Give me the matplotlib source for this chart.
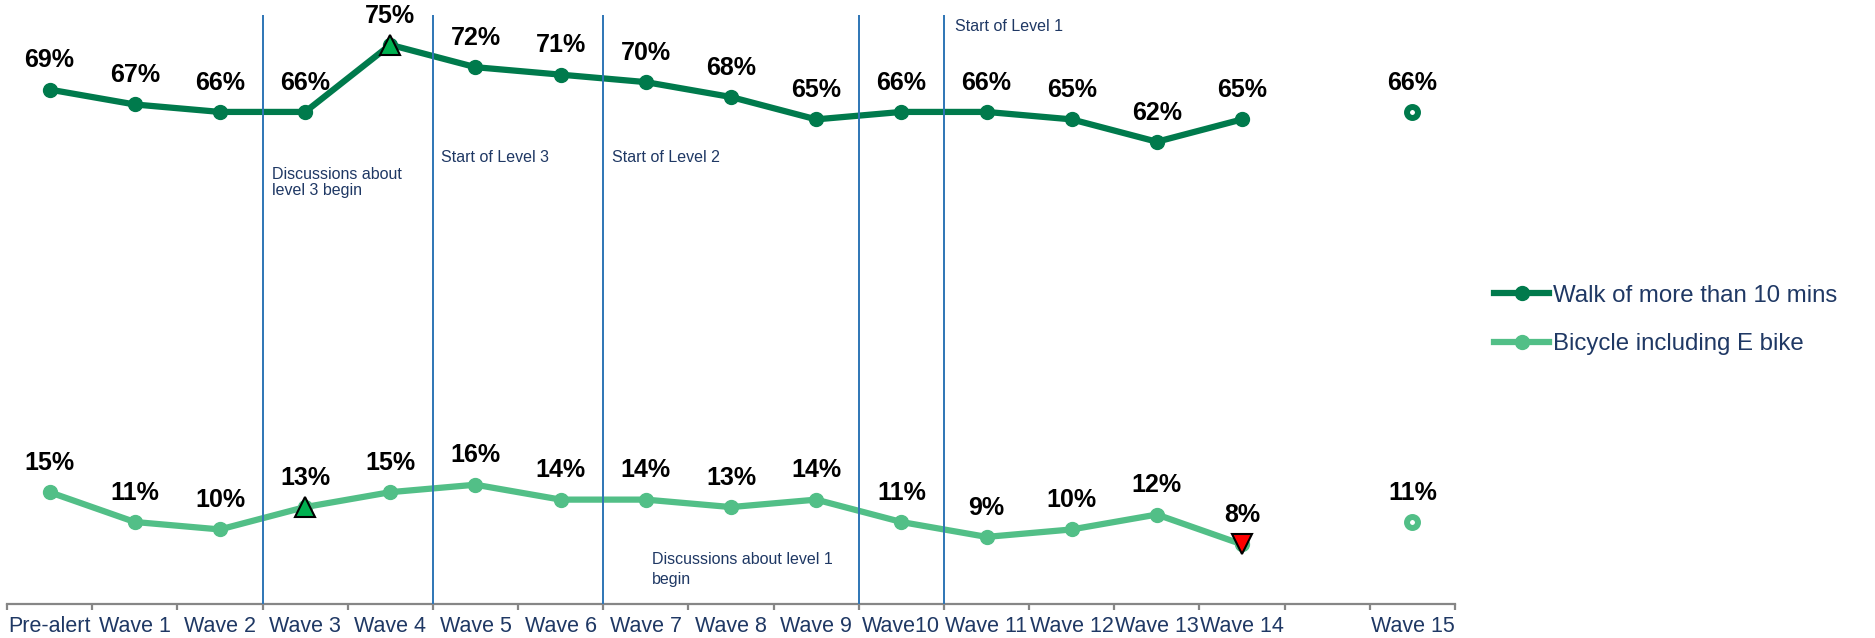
import matplotlib
matplotlib.use("Agg")
import matplotlib.pyplot as plt
from matplotlib.lines import Line2D

# Survey waves (the empty slot keeps a gap before the latest wave)
categories = ["Pre-alert", "Wave 1", "Wave 2", "Wave 3", "Wave 4", "Wave 5",
              "Wave 6", "Wave 7", "Wave 8", "Wave 9", "Wave10", "Wave 11",
              "Wave 12", "Wave 13", "Wave 14", "", "Wave 15"]

# Share of respondents (%) for Pre-alert .. Wave 14
walk = [69, 67, 66, 66, 75, 72, 71, 70, 68, 65, 66, 66, 65, 62, 65]
bike = [15, 11, 10, 13, 15, 16, 14, 14, 13, 14, 11, 9, 10, 12, 8]
# Latest wave, shown on its own
walk_latest = 66
bike_latest = 11

# Significant changes by wave index
sig_up_walk = [4]
sig_up_bike = [3]
sig_down_bike = [14]

# Policy milestones: boundary positions between waves
event_lines = [3, 5, 7, 10, 11]

WALK_C = "#007A4C"
BIKE_C = "#52BF87"
NAVY = "#1F3864"
VLINE_C = "#2E75B6"
FONT = ["Liberation Sans", "DejaVu Sans"]

plt.rcParams["font.family"] = FONT

fig = plt.figure(figsize=(18.75, 6.38), dpi=100)
ax = fig.add_axes([7 / 1875, 34 / 638, 1448 / 1875, 589 / 638])

n = len(walk)
xs = [i + 0.5 for i in range(n)]
x_latest = len(categories) - 0.5

lw = 4.5
ms = 10
ax.plot(xs, walk, color=WALK_C, lw=lw, marker="o", ms=ms, zorder=2,
        solid_capstyle="round", label="Walk of more than 10 mins")
ax.plot(xs, bike, color=BIKE_C, lw=lw, marker="o", ms=ms, zorder=2,
        solid_capstyle="round", label="Bicycle including E bike")

# Latest wave as hollow points
ax.plot([x_latest], [walk_latest], linestyle="none", marker="o", ms=7.9,
        mfc="white", mec=WALK_C, mew=4.3, zorder=2)
ax.plot([x_latest], [bike_latest], linestyle="none", marker="o", ms=7.9,
        mfc="white", mec=BIKE_C, mew=4.3, zorder=2)

# Significance markers
for i in sig_up_walk:
    ax.plot(xs[i], walk[i], marker="^", ms=15, mfc="#00B050", mec="black",
            mew=1.5, linestyle="none", zorder=4)
for i in sig_up_bike:
    ax.plot(xs[i], bike[i], marker="^", ms=15, mfc="#00B050", mec="black",
            mew=1.5, linestyle="none", zorder=4)
for i in sig_down_bike:
    ax.plot(xs[i], bike[i], marker="v", ms=15, mfc="#FF0000", mec="black",
            mew=1.5, linestyle="none", zorder=4)

# Value labels
def label(x, y):
    ax.annotate(f"{y}%", (x, y), xytext=(0, 16), textcoords="offset points",
                ha="center", va="baseline", fontsize=18, fontweight="bold",
                color="black", zorder=5)

for x, y in zip(xs, walk):
    label(x, y)
for x, y in zip(xs, bike):
    label(x, y)
label(x_latest, walk_latest)
label(x_latest, bike_latest)

# Milestone lines and notes
for xv in event_lines:
    ax.axvline(xv, color=VLINE_C, lw=1.4, zorder=3)

note_kw = dict(fontsize=11.5, color=NAVY, ha="left", va="center", zorder=5)
ax.text(3.11, 56.5, "Discussions about\nlevel 3 begin", linespacing=1.1, **note_kw)
ax.text(5.10, 59.95, "Start of Level 3", **note_kw)
ax.text(7.10, 59.95, "Start of Level 2", **note_kw)
ax.text(11.13, 77.4, "Start of Level 1", **note_kw)
ax.text(7.57, 4.6, "Discussions about level 1\nbegin", linespacing=1.45, **note_kw)

# Axes styling
ax.set_xlim(0, len(categories))
ax.set_ylim(0, 79)
for s in ["top", "right", "left"]:
    ax.spines[s].set_visible(False)
ax.spines["bottom"].set_color("#868686")
ax.spines["bottom"].set_linewidth(1.6)
ax.set_yticks([])
ax.set_xticks(range(len(categories) + 1))
ax.set_xticklabels([])
ax.tick_params(axis="x", which="major", length=4.5, width=1.6,
               color="#868686", direction="out")
ax.set_xticks([i + 0.5 for i in range(len(categories))], minor=True)
ax.set_xticklabels(categories, minor=True, fontsize=15.5, color=NAVY)
ax.tick_params(axis="x", which="minor", length=0, pad=9)

# Legend
handles = [Line2D([0], [0], color=WALK_C, lw=lw, marker="o", ms=ms),
           Line2D([0], [0], color=BIKE_C, lw=lw, marker="o", ms=ms)]
leg = fig.legend(handles, ["Walk of more than 10 mins", "Bicycle including E bike"],
                 loc="center left", bbox_to_anchor=(1494 / 1875, 1 - 320 / 638),
                 frameon=False, fontsize=17.3, handlelength=2.3,
                 handletextpad=0.15, labelspacing=1.1, borderpad=0,
                 borderaxespad=0, numpoints=1)
for t in leg.get_texts():
    t.set_color(NAVY)

fig.savefig("out.png", dpi=100)
